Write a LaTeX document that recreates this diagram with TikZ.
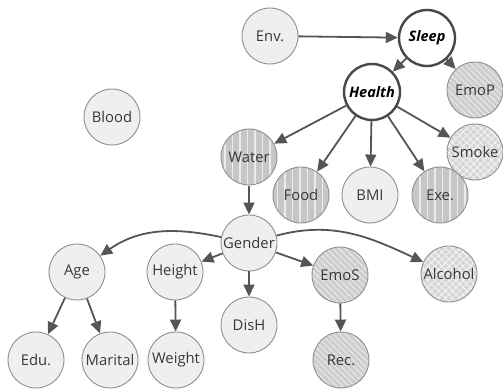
\documentclass[tikz,border=0pt]{standalone}
\usepackage{fontspec}
\setmainfont{Open Sans}
\usetikzlibrary{arrows.meta,patterns.meta}
\definecolor{edgegray}{HTML}{8E8E8E}
\definecolor{keyedge}{HTML}{474747}
\definecolor{arrowcol}{HTML}{555555}
\definecolor{txt}{HTML}{383838}
\definecolor{lightfill}{HTML}{EFEFEF}
\definecolor{vfill}{HTML}{C6C6C6}
\definecolor{dfill}{HTML}{CDCDCD}
\definecolor{hatchfill}{HTML}{D6D6D6}
\tikzset{
  var/.style={circle, minimum size=56pt, inner sep=0pt, draw=edgegray,
    line width=0.9pt, text=txt, font=\fontsize{14.8}{17}\selectfont},
  plain/.style={var, fill=lightfill},
  vstripe/.style={var, preaction={fill=vfill},
    pattern={Lines[angle=90,distance=7.5pt,line width=1.2pt]},
    pattern color=white!65!vfill},
  dstripe/.style={var, preaction={fill=dfill},
    pattern={Lines[angle=-45,distance=4.3pt,line width=1.1pt]},
    pattern color=white!55!dfill},
  xhatch/.style={var, preaction={fill=hatchfill},
    pattern={Hatch[angle=45,distance=5pt,line width=0.8pt]},
    pattern color=white!75!hatchfill},
  keyvar/.style={circle, minimum size=56pt, inner sep=0pt, fill=white,
    draw=keyedge, line width=2.4pt, text=black,
    font=\fontsize{14.5}{17}\selectfont\bfseries\itshape},
  arr/.style={-{Triangle[length=12pt,width=11pt]}, line width=1.8pt, draw=arrowcol},
}
\begin{document}
\begin{tikzpicture}[x=1pt,y=1pt]
\useasboundingbox (0,0) rectangle (503,390);

% top row
\node[plain]  (env)    at (270,354) {Env.};
\node[keyvar] (sleep)  at (427,352) {Sleep};
\node[keyvar] (health) at (372,298) {Health};
\node[dstripe](emop)   at (475,300) {EmoP};
\node[plain]  (blood)  at (112,273) {Blood};

% second tier
\node[vstripe](water)  at (249,233) {Water};
\node[xhatch] (smoke)  at (475,238) {Smoke};
\node[vstripe](food)   at (301,195) {Food};
\node[plain]  (bmi)    at (370,195) {BMI};
\node[vstripe](exe)    at (440,195) {Exe.};

% third tier
\node[plain]  (gender) at (249,147) {Gender};
\node[plain]  (age)    at (77,118)  {Age};
\node[plain]  (height) at (175,118) {Height};
\node[dstripe](emos)   at (340,115) {EmoS};
\node[xhatch] (alcohol)at (449,116) {Alcohol};

% bottom row
\node[plain]  (dish)   at (249,65)  {DisH};
\node[plain]  (edu)    at (36,30)   {Edu.};
\node[plain]  (marital)at (110,30)  {Marital};
\node[plain]  (weight) at (176,30)  {Weight};
\node[dstripe](rec)    at (341,30)  {Rec.};

% dependencies
\draw[arr] (env) -- (sleep);
\draw[arr] (sleep) -- (health);
\draw[arr] (sleep) -- (emop);
\draw[arr] (health) -- (water);
\draw[arr] (health) -- (food);
\draw[arr] (health) -- (bmi);
\draw[arr] (health) -- (exe);
\draw[arr] (health) -- (smoke);
\draw[arr] (water) -- (gender);
\draw[arr] (gender) to[out=168,in=35] (age);
\draw[arr] (gender) -- (height);
\draw[arr] (gender) -- (dish);
\draw[arr] (gender) -- (emos);
\draw[arr] (gender) to[out=15,in=155] (alcohol);
\draw[arr] (age) -- (edu);
\draw[arr] (age) -- (marital);
\draw[arr] (height) -- (weight);
\draw[arr] (emos) -- (rec);
\end{tikzpicture}
\end{document}
